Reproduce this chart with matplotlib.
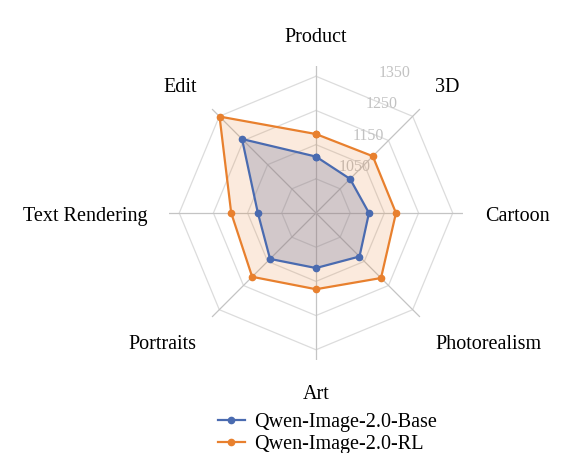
import numpy as np
import matplotlib
matplotlib.use('Agg')
from matplotlib import pyplot as plt

plt.rcParams['font.family'] = ['Liberation Serif', 'DejaVu Serif']

# data
categories = ['Product', '3D', 'Cartoon', 'Photorealism', 'Art', 'Portraits', 'Text Rendering', 'Edit']
base_scores = [1115, 1091, 1105, 1130, 1111, 1140, 1120, 1256]
rl_scores = [1181, 1185, 1184, 1219, 1173, 1214, 1198, 1349]
series_names = ['Qwen-Image-2.0-Base', 'Qwen-Image-2.0-RL']
ring_ticks = [1050, 1150, 1250, 1350]

r_min, r_max = 950, 1380
blue = '#4a6bb0'
orange = '#e8802e'

fig = plt.figure(figsize=(5.62, 4.53), dpi=100)
ax = fig.add_axes([0.3007, 0.2053, 0.5231, 0.6490], projection='polar')
ax.set_theta_zero_location('N')
ax.set_theta_direction(-1)
ax.set_ylim(r_min, r_max)
ax.grid(False)
ax.spines['polar'].set_visible(False)
ax.set_xticks([])
ax.set_yticks([])
ax.patch.set_visible(False)

n = len(categories)
angles = np.arange(n) * 2 * np.pi / n
closed = np.append(angles, angles[0])

# octagon grid
for r in ring_ticks:
    ax.plot(closed, [r] * (n + 1), color='#dcdcdc', lw=0.9, zorder=1)
for a in angles:
    ax.plot([a, a], [r_min, r_max], color='#c4c4c4', lw=0.9, zorder=1)

# radial tick labels
for r in ring_ticks:
    ax.annotate(str(r), xy=(np.pi / 8, r), xytext=(26, 14), textcoords='offset pixels',
                ha='center', va='center', color='#c2c2c2', fontsize=11.5)

# series
def close(v):
    return list(v) + [v[0]]

ax.fill(closed, close(base_scores), color=blue, alpha=0.27, lw=0, zorder=2)
ax.fill(closed, close(rl_scores), color=orange, alpha=0.16, lw=0, zorder=3)
ax.plot(closed, close(base_scores), color=blue, lw=1.6, marker='o', ms=4.5,
        label=series_names[0], zorder=4)
ax.plot(closed, close(rl_scores), color=orange, lw=1.6, marker='o', ms=4.5,
        label=series_names[1], zorder=4)

# category labels, anchored just outside the grid
for a, name in zip(angles, categories):
    s, c = np.sin(a), np.cos(a)
    ha = 'center' if abs(s) < 1e-6 else ('left' if s > 0 else 'right')
    va = 'center' if abs(c) < 1e-6 else ('bottom' if c > 0 else 'top')
    ax.annotate(name, xy=(a, 1444), xytext=(0, -3), textcoords='offset pixels',
                ha=ha, va=va, fontsize=14.5, annotation_clip=False)

fig.legend(loc='center', bbox_to_anchor=(0.582, 0.043), frameon=False, fontsize=14.5,
           handlelength=1.35, handletextpad=0.45, labelspacing=0.15, borderpad=0)

fig.savefig('out.png', dpi=100)
